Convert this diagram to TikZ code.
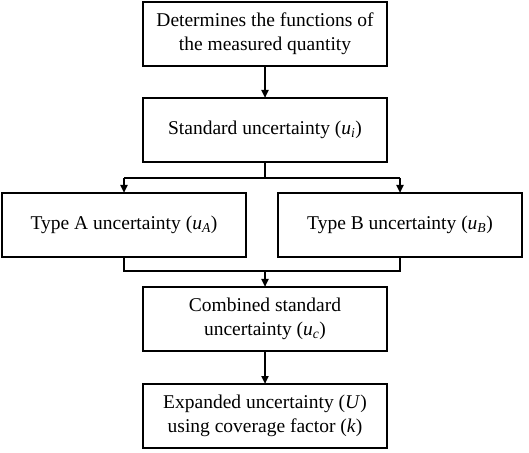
\documentclass[tikz,border=0pt]{standalone}
\usepackage{fontspec}
\setmainfont{Liberation Serif}
\usetikzlibrary{arrows.meta, positioning, calc}

\begin{document}
\begin{tikzpicture}[
        x=1pt, y=1pt,
        node distance=32pt,
        box/.style={rectangle, draw, line width=2pt, minimum width=244pt, minimum height=64pt, inner sep=0pt, outer sep=0pt, align=center, font=\fontsize{19.5}{24}\selectfont},
        arrow/.style={-{Triangle[length=8pt, width=7pt]}, line width=2pt},
        link/.style={line width=2pt}
    ]
    \useasboundingbox (0,0) rectangle (529,452);

    \node[box] (func) at (265,418) {Determines the functions of \\ the measured quantity};
    \node[box, below=of func] (std) {Standard uncertainty (\textit{u\textsubscript{i}})};
    \node[box, below=31pt of std, xshift=-141pt] (typea) {Type A uncertainty (\textit{u\textsubscript{A}})};
    \node[box, below=31pt of std, xshift=135pt] (typeb) {Type B uncertainty (\textit{u\textsubscript{B}})};
    \node[box, below=30pt of typea, xshift=141pt] (comb) {Combined standard \\ uncertainty (\textit{u\textsubscript{c}})};
    \node[box, below=33pt of comb] (expd) {Expanded uncertainty (\textit{U}) \\ using coverage factor (\textit{k})};

    \draw[arrow] (func) -- (std);
    \draw[link] (std.south) -- ++(0,-16) coordinate (split);
    \draw[link] (split -| typea) -- (split -| typeb);
    \draw[arrow] (split -| typea) -- (typea);
    \draw[arrow] (split -| typeb) -- (typeb);
    \draw[link] (typea.south) -- ++(0,-14) coordinate (join) -- (join -| typeb.south) -- (typeb.south);
    \draw[arrow] (join -| comb) -- (comb);
    \draw[arrow] (comb) -- (expd);

\end{tikzpicture}
\end{document}
